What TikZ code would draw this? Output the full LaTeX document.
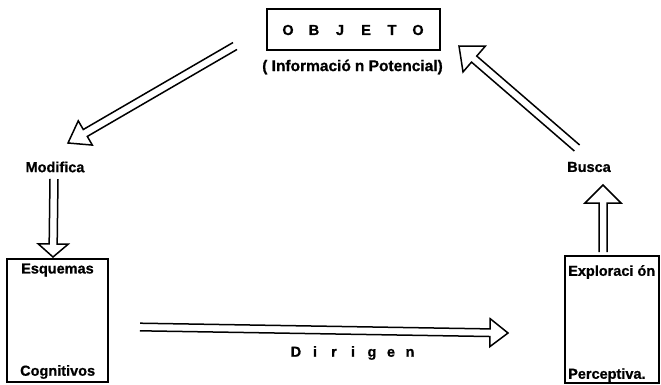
\documentclass[tikz,border=0pt]{standalone}
\usepackage{fontspec}
\setmainfont{Liberation Sans}[BoldFeatures={FakeBold=0.8}]
\usetikzlibrary{calc}
\tikzset{
  lbl/.style={font=\bfseries\fontsize{14.5}{16}\selectfont, inner sep=0pt},
  box/.style={draw, line width=1.8pt, inner sep=0pt},
  harrow/.style={draw, line width=1.5pt, line join=miter},
}
\newcommand\hollowarrow[5]{% tail, tip, shaft half width, head half width, head length
  \coordinate (hb) at ($(#2)!#5!(#1)$);
  \draw[harrow] ($(#1)!#3!90:(#2)$) -- ($(hb)!#3!90:(#2)$) -- ($(hb)!#4!90:(#2)$)
    -- (#2) -- ($(hb)!#4!-90:(#2)$) -- ($(hb)!#3!-90:(#2)$) -- ($(#1)!#3!-90:(#2)$);
}
\newcommand\lsp[2]{\makebox[#1]{#2}}
\begin{document}
\begin{tikzpicture}[x=1pt,y=-1pt]
\useasboundingbox (0,0) rectangle (661,384);
% top object box
\node[box, minimum width=173pt, minimum height=41pt] (obj) at (353.5,29.5) {};
\node[lbl] (objt) at (353,30) {\lsp{26pt}{O}\lsp{26pt}{B}\lsp{26pt}{J}\lsp{26pt}{E}\lsp{26pt}{T}\lsp{26pt}{O}};
\node[lbl, font=\bfseries\fontsize{15.5}{17}\selectfont] (info) at (352.5,67) {( Informació\kern4pt n Potencial)};
% left box
\node[box, minimum width=101pt, minimum height=123pt] (esq) at (57.5,320.5) {};
\node[lbl, anchor=west] (esq1) at (21,270) {Esquemas};
\node[lbl, anchor=west] (esq2) at (20,372) {Cognitivos};
% right box
\node[box, minimum width=94pt, minimum height=127pt] (exp) at (612,319.5) {};
\node[lbl, anchor=west] (exp1) at (568,272) {Exploraci\kern4pt ón};
\node[lbl, anchor=west] (exp2) at (568,375) {Perceptiva.};
% labels
\node[lbl] (mod) at (55,167) {Modifica};
\node[lbl] (bus) at (589,167) {Busca};
\node[lbl] (dir) at (353,353) {\lsp{19pt}{D}\lsp{19pt}{i}\lsp{19pt}{r}\lsp{19pt}{i}\lsp{19pt}{g}\lsp{19pt}{e}\lsp{19pt}{n}};
% arrows
\coordinate (a1t) at (235,46);  \coordinate (a1h) at (68,143);
\hollowarrow{a1t}{a1h}{4pt}{14pt}{20pt}
\coordinate (a2t) at (54,179);  \coordinate (a2h) at (53,257);
\hollowarrow{a2t}{a2h}{4pt}{15pt}{13pt}
\coordinate (a3t) at (140,327); \coordinate (a3h) at (508,333);
\hollowarrow{a3t}{a3h}{3.8pt}{14pt}{18pt}
\coordinate (a4t) at (603,252); \coordinate (a4h) at (603,185);
\hollowarrow{a4t}{a4h}{4pt}{18pt}{18pt}
\coordinate (a5t) at (577,148); \coordinate (a5h) at (459,46);
\hollowarrow{a5t}{a5h}{4pt}{17pt}{20pt}
\end{tikzpicture}
\end{document}
